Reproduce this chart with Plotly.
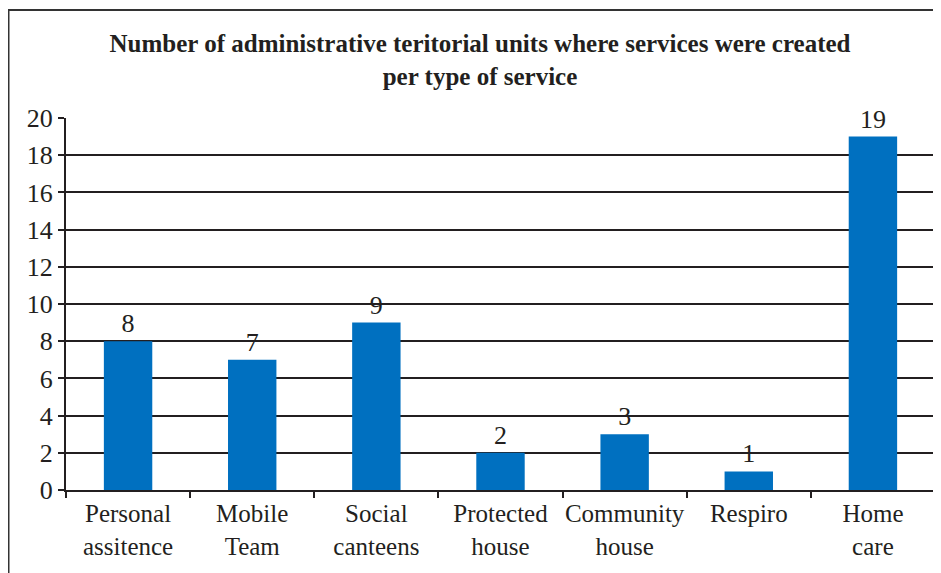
import plotly.graph_objects as go

categories = ["Personal<br>assitence", "Mobile<br>Team", "Social<br>canteens", "Protected<br>house",
              "Community<br>house", "Respiro", "Home<br>care"]
values = [8, 7, 9, 2, 3, 1, 19]
y_ticks = [0, 2, 4, 6, 8, 10, 12, 14, 16, 18, 20]

FONT = "Liberation Serif"
INK = "#231f20"
FS = 26

fig = go.Figure(go.Bar(
    x=categories, y=values, marker=dict(color="#0070c0", line=dict(width=0)),
    text=[str(v) for v in values], textposition="outside", cliponaxis=False,
    textfont=dict(family=FONT, size=FS, color=INK), width=0.39,
))

# page body has an 8px offset; work in figure coordinates
W, H = 933, 565
L, R, T, B = 58, 6, 110, 83
pw, ph = W - L - R, H - T - B

fig.update_layout(
    width=W, height=H, margin=dict(l=L, r=R, t=T, b=B, autoexpand=False),
    paper_bgcolor="white", plot_bgcolor="white", showlegend=False,
    font=dict(family=FONT, size=FS, color=INK),
    title=dict(text="<b>Number of administrative teritorial units where services were created<br>per type of service</b>",
               x=472 / W, xanchor="center", y=1 - 44 / H, yanchor="middle",
               font=dict(family=FONT, size=25, color=INK)),
    xaxis=dict(showline=True, linecolor=INK, linewidth=2, ticks="outside", tickson="boundaries",
               ticklen=6, tickwidth=2, tickcolor=INK, showgrid=False, tickangle=0, automargin=False,
               tickfont=dict(family=FONT, size=25, color=INK)),
    yaxis=dict(range=[0, 20], tickvals=y_ticks, showline=True, linecolor=INK, linewidth=2,
               ticks="outside", ticklen=6, tickwidth=2, tickcolor=INK, automargin=False,
               showgrid=True, gridcolor=INK, gridwidth=2, zeroline=False,
               tickfont=dict(family=FONT, size=FS, color=INK)),
    shapes=[dict(type="rect", xref="paper", yref="paper",
                 x0=(0.5 - L) / pw, x1=(W + 20 - L) / pw,
                 y0=-(B + 20) / ph, y1=(H - B - 2) / ph,
                 line=dict(color="#333333", width=2), fillcolor="rgba(0,0,0,0)", layer="below")],
)

fig.write_html("out.html")
